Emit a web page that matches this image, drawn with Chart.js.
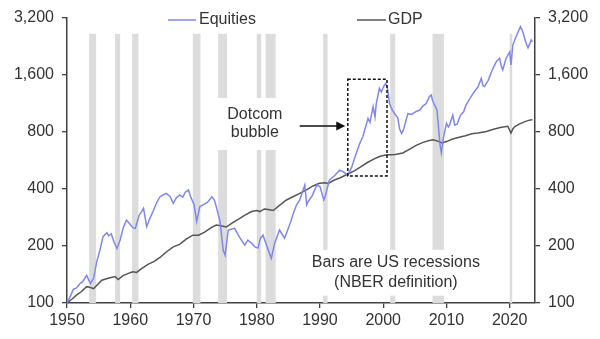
<!DOCTYPE html>
<html>
<head>
<meta charset="utf-8">
<script src="https://cdn.jsdelivr.net/npm/chart.js@4/dist/chart.umd.min.js"></script>
<style>
  html, body { margin: 0; padding: 0; background: #fff; }
  #wrap { width: 600px; height: 339px; }
</style>
</head>
<body>
<div id="wrap"><canvas id="chartEq"></canvas></div>
<script>
'use strict'

// equities index (1950 = 100)
const eqYears = [1950.0, 1950.5, 1951.0, 1951.5, 1952.0, 1952.5, 1953.1, 1953.7, 1954.2, 1954.7, 1955.2, 1955.7, 1956.3, 1956.6, 1957.0, 1957.4, 1957.9, 1958.4, 1958.9, 1959.4, 1959.9, 1960.4, 1960.8, 1961.4, 1962.1, 1962.6, 1963.1, 1963.6, 1964.2, 1964.7, 1965.2, 1965.7, 1966.3, 1966.8, 1967.3, 1967.8, 1968.3, 1968.7, 1969.2, 1969.6, 1970.1, 1970.5, 1971.0, 1971.5, 1972.2, 1972.9, 1973.3, 1973.6, 1974.2, 1974.7, 1975.0, 1975.5, 1976.5, 1977.2, 1978.1, 1978.6, 1979.2, 1979.7, 1980.2, 1980.6, 1981.0, 1981.6, 1982.3, 1982.8, 1983.6, 1984.4, 1984.9, 1985.4, 1985.8, 1986.3, 1986.8, 1987.6, 1987.9, 1988.1, 1988.8, 1989.5, 1990.0, 1990.6, 1990.8, 1991.5, 1992.3, 1993.1, 1993.6, 1994.4, 1995.0, 1995.6, 1996.3, 1996.8, 1997.6, 1997.9, 1998.4, 1998.7, 1998.9, 1999.4, 1999.7, 2000.2, 2000.4, 2000.7, 2001.0, 2001.4, 2001.8, 2002.3, 2002.6, 2002.9, 2003.2, 2003.9, 2004.5, 2005.2, 2005.8, 2006.3, 2006.8, 2007.3, 2007.6, 2007.8, 2008.1, 2008.5, 2008.8, 2009.0, 2009.2, 2009.5, 2010.0, 2010.3, 2010.5, 2011.0, 2011.3, 2011.7, 2012.2, 2012.7, 2013.1, 2013.7, 2014.3, 2015.0, 2015.5, 2015.8, 2016.0, 2016.6, 2017.3, 2017.9, 2018.4, 2018.7, 2018.9, 2019.4, 2020.0, 2020.2, 2020.5, 2021.0, 2021.7, 2022.0, 2022.6, 2022.9, 2023.2, 2023.4, 2023.6];
const eqValues = [100, 108, 118, 120, 126, 130, 140, 127, 135, 165, 190, 224, 235, 226, 232, 211, 194, 215, 250, 274, 262, 250, 248, 290, 316, 253, 280, 304, 340, 364, 372, 379, 365, 336, 360, 372, 362, 385, 395, 360, 330, 269, 323, 330, 340, 364, 350, 323, 270, 190, 179, 243, 248, 225, 202, 215, 207, 198, 195, 220, 228, 200, 172, 205, 243, 220, 243, 270, 298, 330, 350, 420, 330, 342, 370, 420, 412, 350, 364, 447, 470, 503, 495, 474, 520, 600, 698, 760, 945, 900, 1088, 960, 1131, 1361, 1300, 1420, 1444, 1350, 1131, 1050, 1000, 950, 830, 786, 820, 1000, 990, 1027, 1045, 1100, 1131, 1231, 1254, 1178, 1112, 1050, 800, 680, 620, 740, 890, 850, 871, 983, 871, 880, 980, 1020, 1112, 1200, 1290, 1389, 1533, 1400, 1389, 1500, 1720, 1889, 1960, 1768, 1700, 1950, 2120, 1809, 2310, 2550, 2883, 2750, 2356, 2226, 2350, 2450, 2400];

// GDP (1950 = 100)
const gdpYears = [1950.0, 1950.8, 1951.5, 1952.3, 1953.1, 1953.6, 1954.2, 1954.8, 1955.5, 1956.5, 1957.6, 1958.1, 1958.8, 1959.6, 1960.4, 1961.0, 1961.8, 1962.8, 1963.8, 1964.7, 1965.7, 1966.8, 1967.8, 1968.9, 1969.9, 1970.8, 1971.7, 1972.8, 1973.6, 1974.5, 1975.2, 1976.2, 1977.2, 1978.2, 1979.2, 1980.0, 1980.5, 1981.2, 1981.8, 1982.6, 1983.6, 1984.7, 1985.8, 1986.8, 1987.8, 1988.9, 1989.9, 1990.8, 1991.3, 1992.2, 1993.3, 1994.4, 1995.5, 1996.5, 1997.5, 1998.5, 1999.5, 2000.6, 2001.3, 2001.9, 2003.1, 2004.2, 2005.2, 2006.3, 2007.3, 2007.9, 2008.5, 2009.3, 2010.0, 2011.0, 2012.0, 2013.0, 2014.0, 2015.0, 2016.3, 2017.3, 2018.5, 2019.7, 2020.2, 2020.5, 2020.8, 2021.5, 2022.3, 2023.1, 2023.6];
const gdpValues = [100, 105, 110, 115, 122, 121, 119, 125, 132, 135, 138, 133, 139, 143, 146, 145, 152, 160, 166, 174, 186, 198, 204, 218, 228, 228, 236, 250, 258, 255, 252, 266, 278, 292, 304, 308, 304, 314, 312, 308, 328, 350, 365, 379, 395, 415, 429, 432, 428, 445, 460, 480, 500, 525, 552, 575, 596, 606, 606, 608, 620, 650, 680, 705, 722, 728, 718, 700, 712, 735, 750, 765, 783, 790, 805, 825, 845, 858, 790, 830, 855, 880, 905, 924, 930];

// US recessions (NBER)
const recStart = [1953.5, 1957.6, 1960.3, 1969.9, 1973.9, 1980.0, 1981.4, 1990.5, 2001.1, 2007.8, 2020.0];
const recEnd = [1954.6, 1958.4, 1961.3, 1971.1, 1975.3, 1980.7, 1983.0, 1991.2, 2001.9, 2009.6, 2020.4];
const recTop = 2640;

const xTicks = [1950, 1960, 1970, 1980, 1990, 2000, 2010, 2020];
const yTicks = [100, 200, 400, 800, 1600, 3200];

const colors = {
	equities: '#7f88e8',
	gdp: '#555555',
	bars: '#dcdcdc',
	axis: '#404040',
	text: '#333333',
};

const FONT = "'Liberation Sans', Arial, sans-serif";
Chart.defaults.font.family = FONT;
Chart.defaults.font.size = 16;
Chart.defaults.color = colors.text;

function toPoints(xs, ys){
	return xs.map((x, i) => ({x: x, y: ys[i]}));
}

// grey recession bars behind the lines
const recessionBars = {
	id: 'recessionBars',
	beforeDatasetsDraw(chart){
		const {ctx, scales: {x, y}} = chart;
		ctx.save();
		ctx.fillStyle = colors.bars;
		const top = y.getPixelForValue(recTop);
		const bottom = y.getPixelForValue(100);
		recStart.forEach(function(s, i){
			const l = x.getPixelForValue(s);
			const r = x.getPixelForValue(recEnd[i]);
			ctx.fillRect(l, top, r - l, bottom - top);
		});
		ctx.restore();
	}
};

function textBlock(ctx, lines, cx, ys, padX, padY){
	ctx.font = '16px ' + FONT;
	let w = 0;
	lines.forEach(function(t){ w = Math.max(w, ctx.measureText(t).width); });
	ctx.fillStyle = '#fff';
	ctx.fillRect(cx - w / 2 - padX, ys[0] - padY, w + padX * 2, ys[ys.length - 1] - ys[0] + padY * 2);
	ctx.fillStyle = colors.text;
	ctx.textAlign = 'center';
	ctx.textBaseline = 'middle';
	lines.forEach(function(t, i){ ctx.fillText(t, cx, ys[i]); });
}

const annotations = {
	id: 'annotations',
	afterDatasetsDraw(chart){
		const {ctx, scales: {x, y}} = chart;
		ctx.save();

		// dotcom box
		const bx0 = x.getPixelForValue(1994.4), bx1 = x.getPixelForValue(2000.6);
		const by0 = y.getPixelForValue(1519), by1 = y.getPixelForValue(469);
		ctx.strokeStyle = '#111';
		ctx.lineWidth = 1.5;
		ctx.setLineDash([3, 2]);
		ctx.strokeRect(bx0, by0, bx1 - bx0, by1 - by0);
		ctx.setLineDash([]);

		// arrow
		const ay = y.getPixelForValue(860);
		const ax0 = x.getPixelForValue(1986.8), ax1 = x.getPixelForValue(1994.0);
		ctx.beginPath();
		ctx.moveTo(ax0, ay);
		ctx.lineTo(ax1 - 8, ay);
		ctx.stroke();
		ctx.fillStyle = '#111';
		ctx.beginPath();
		ctx.moveTo(ax1, ay);
		ctx.lineTo(ax1 - 9, ay - 4.5);
		ctx.lineTo(ax1 - 9, ay + 4.5);
		ctx.closePath();
		ctx.fill();

		// labels with white backing (they hide the bars)
		textBlock(ctx, ['Dotcom', 'bubble'], x.getPixelForValue(1979.7),
			[y.getPixelForValue(985), y.getPixelForValue(790)], 10, 17);
		textBlock(ctx, ['Bars are US recessions', '(NBER definition)'], x.getPixelForValue(2002.0),
			[y.getPixelForValue(163), y.getPixelForValue(128)], 6, 13);

		// legend
		const ly = 20;
		ctx.lineWidth = 1.5;
		ctx.strokeStyle = colors.equities;
		ctx.beginPath(); ctx.moveTo(168, ly); ctx.lineTo(196, ly); ctx.stroke();
		ctx.strokeStyle = colors.gdp;
		ctx.beginPath(); ctx.moveTo(357, ly); ctx.lineTo(386, ly); ctx.stroke();
		ctx.font = '16px ' + FONT;
		ctx.fillStyle = colors.text;
		ctx.textAlign = 'left';
		ctx.textBaseline = 'middle';
		ctx.fillText(chart.data.datasets[0].label, 199, ly);
		ctx.fillText(chart.data.datasets[1].label, 388, ly);

		ctx.restore();
	}
};

function yAxis(position, width){
	return {
		type: 'logarithmic',
		position: position,
		min: 100,
		max: 3200,
		afterBuildTicks: function(scale){ scale.ticks = yTicks.map(v => ({value: v})); },
		afterFit: function(scale){ scale.width = width; },
		ticks: {
			padding: 8,
			color: colors.text,
			font: {size: 16},
			callback: (v) => Number(v).toLocaleString('en-US'),
		},
		grid: {
			drawOnChartArea: false,
			drawTicks: true,
			tickLength: 5,
			color: colors.axis,
			lineWidth: 1.3,
		},
		border: {
			color: colors.axis,
			width: 1.5,
		},
	};
}

new Chart(document.getElementById('chartEq'), {
	type: 'line',
	data: {
		datasets: [
			{
				label: 'Equities',
				data: toPoints(eqYears, eqValues),
				borderColor: colors.equities,
				borderWidth: 1.5,
				pointRadius: 0,
				tension: 0,
				yAxisID: 'y',
				order: 1,
			},
			{
				label: 'GDP',
				data: toPoints(gdpYears, gdpValues),
				borderColor: colors.gdp,
				borderWidth: 1.5,
				pointRadius: 0,
				tension: 0,
				yAxisID: 'y',
				order: 2,
			},
		],
	},
	options: {
		responsive: true,
		maintainAspectRatio: false,
		animation: false,
		layout: {
			padding: {top: 18, left: 0, right: 0, bottom: 0},
		},
		plugins: {
			legend: {display: false},
			tooltip: {enabled: false},
		},
		scales: {
			x: {
				type: 'linear',
				min: 1950,
				max: 2024,
				afterBuildTicks: function(scale){ scale.ticks = xTicks.map(v => ({value: v})); },
				afterFit: function(scale){ scale.height = 36; },
				ticks: {
					padding: 3,
					maxRotation: 0,
					color: colors.text,
					font: {size: 16},
					callback: (v) => String(v),
				},
				grid: {
					drawOnChartArea: false,
					drawTicks: true,
					tickLength: 5,
					color: colors.axis,
					lineWidth: 1.3,
				},
				border: {
					color: colors.axis,
					width: 1.5,
				},
			},
			y: yAxis('left', 67),
			y1: yAxis('right', 65),
		},
	},
	plugins: [recessionBars, annotations],
});
</script>
</body>
</html>
